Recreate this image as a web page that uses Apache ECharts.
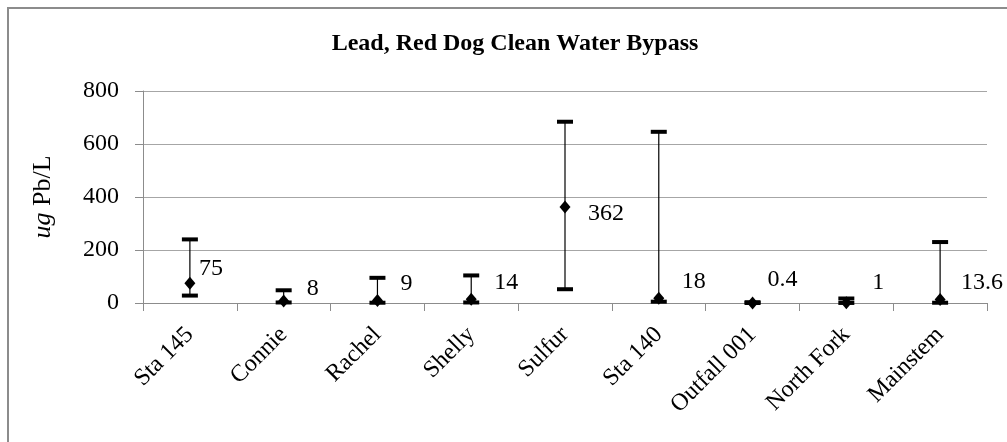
<!DOCTYPE html>
<html>
<head>
<meta charset="utf-8">
<script src="https://cdn.jsdelivr.net/npm/echarts@6/dist/echarts.min.js"></script>
<style>
    html, body { margin: 0; padding: 0; background: #fff; }
    #chart { width: 1007px; height: 442px; }
</style>
</head>
<body>
<div id="chart"></div>
<script>
// 站点
var categories = ['Sta 145', 'Connie', 'Rachel', 'Shelly', 'Sulfur', 'Sta 140', 'Outfall 001', 'North Fork', 'Mainstem'];
// 平均值 (ug Pb/L)
var meanValues = [75, 8, 9, 14, 362, 18, 0.4, 1, 13.6];
// 误差线 上/下
var maxValues = [240, 48, 95, 104, 684, 646, 3, 17, 230];
var minValues = [28, 2, 1, 2, 52, 5, 0.1, 0.2, 1];
var yTicks = [0, 200, 400, 600, 800];

var serif = '"Liberation Serif", "Times New Roman", serif';
var myChart = echarts.init(document.getElementById('chart'));

var errorData = categories.map(function (c, i) {
    return [i, minValues[i], maxValues[i]];
});

// 数据标签位置微调 (dx: 距点中心, dy)
function labelShift(i) {
    var dx = 23, dy = -17;
    if (i === 0) { dx = 9; dy = -14; }
    if (i === 1) { dy = -12; }
    if (i === 4) { dy = 7; }
    if (i === 6) { dx = 15; dy = -23; }
    if (i === 7) { dx = 26; dy = -20; }
    if (i === 8) { dx = 21; }
    return [dx - 5.5, dy];
}

var option = {
    animation: false,
    backgroundColor: '#fff',
    title: {
        text: 'Lead, Red Dog Clean Water Bypass',
        left: 510,
        textAlign: 'center',
        top: 27,
        textStyle: {
            fontFamily: serif,
            fontWeight: 'bold',
            fontSize: 24,
            color: '#000'
        }
    },
    // 外框（只露出上边和左边）
    graphic: [
        {
            type: 'polyline',
            silent: true,
            shape: {points: [[8, 442], [8, 8], [1007, 8]]},
            style: {stroke: '#8c8c8c', lineWidth: 2, fill: null}
        }
    ],
    grid: {
        left: 143,
        right: 20,
        top: 91,
        bottom: 139
    },
    xAxis: {
        type: 'category',
        data: categories,
        boundaryGap: true,
        axisLine: {lineStyle: {color: '#8c8c8c', width: 1}},
        axisTick: {show: true, length: 8, lineStyle: {color: '#8c8c8c'}},
        axisLabel: {
            rotate: 45,
            margin: 28,
            interval: 0,
            fontFamily: serif,
            fontSize: 24,
            color: '#000'
        },
        splitLine: {show: false}
    },
    yAxis: {
        type: 'value',
        min: yTicks[0],
        max: yTicks[yTicks.length - 1],
        interval: 200,
        name: '{i|ug} Pb/L',
        nameLocation: 'middle',
        nameGap: 87,
        nameTextStyle: {
            fontFamily: serif,
            fontSize: 26,
            color: '#000',
            rich: {
                i: {fontFamily: serif, fontSize: 26, fontStyle: 'italic', color: '#000'}
            }
        },
        axisLine: {show: true, lineStyle: {color: '#8c8c8c', width: 1}},
        axisTick: {show: true, length: 8, lineStyle: {color: '#8c8c8c'}},
        axisLabel: {
            margin: 24,
            fontFamily: serif,
            fontSize: 24,
            color: '#000'
        },
        splitLine: {lineStyle: {color: '#a6a6a6', width: 1}}
    },
    series: [
        {
            // 误差线
            type: 'custom',
            data: errorData,
            z: 2,
            renderItem: function (params, api) {
                var x = api.value(0);
                var lo = api.coord([x, api.value(1)]);
                var hi = api.coord([x, api.value(2)]);
                var capW = 16, capH = 4;
                return {
                    type: 'group',
                    children: [
                        {
                            type: 'line',
                            shape: {x1: hi[0], y1: hi[1], x2: lo[0], y2: lo[1]},
                            style: {stroke: '#000', lineWidth: 1.2}
                        },
                        {
                            type: 'rect',
                            shape: {x: hi[0] - capW / 2, y: hi[1] - capH / 2, width: capW, height: capH},
                            style: {fill: '#000'}
                        },
                        {
                            type: 'rect',
                            shape: {x: lo[0] - capW / 2, y: lo[1] - capH / 2, width: capW, height: capH},
                            style: {fill: '#000'}
                        }
                    ]
                };
            }
        },
        {
            // 平均值
            type: 'scatter',
            data: meanValues.map(function (v, i) {
                return {value: [i, v], label: {offset: labelShift(i)}};
            }),
            symbol: 'diamond',
            symbolSize: [11, 13],
            itemStyle: {color: '#000', opacity: 1},
            z: 3,
            label: {
                show: true,
                position: 'right',
                distance: 0,
                fontFamily: serif,
                fontSize: 24,
                color: '#000',
                formatter: function (p) {
                    return String(p.value[1]);
                }
            }
        }
    ]
};

myChart.setOption(option);
</script>
</body>
</html>
